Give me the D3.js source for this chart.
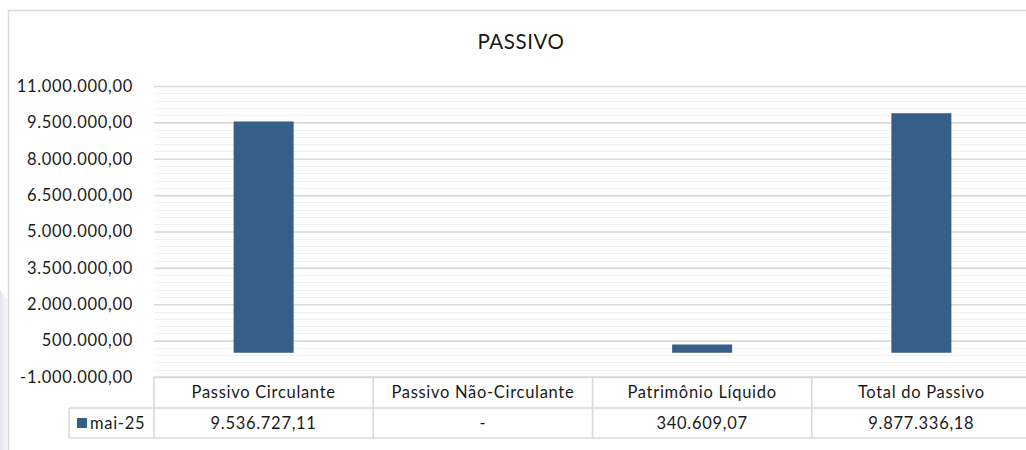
<!DOCTYPE html>
<html>
<head>
<meta charset="utf-8">
<script src="https://cdn.jsdelivr.net/npm/d3@7"></script>
<style>
  body { margin: 0; background: #fff; }
  svg { display: block; font-family: Lato, 'Open Sans', sans-serif; }
</style>
</head>
<body>
<div id="chart"></div>
<script>
const WIDTH = 1026;
const HEIGHT = 450;

// dados
const categories = ['Passivo Circulante', 'Passivo Não-Circulante', 'Patrimônio Líquido', 'Total do Passivo'];
const seriesName = 'mai-25';
const values = [9536727.11, 0, 340609.07, 9877336.18];
const yTicks = [-1000000, 500000, 2000000, 3500000, 5000000, 6500000, 8000000, 9500000, 11000000];
const yMinorStep = 300000;

const plot = { left: 154, right: 1031, top: 86, bottom: 377 };
const table = { legendLeft: 69, headerBottom: 408, bottom: 438 };

const FONT_SIZE = 16.5;
const SPACING = 0.7;

const ptBR = d3.formatLocale({ decimal: ',', thousands: '.', grouping: [3], currency: ['R$', ''], minus: '-' });
const fmt = ptBR.format(',.2f');
const fmtCell = v => (v === 0 ? '-' : fmt(v));

const svg = d3.select('#chart').append('svg')
  .attr('width', WIDTH)
  .attr('height', HEIGHT);

// marca d'água suave à esquerda
const grad = svg.append('defs').append('linearGradient')
  .attr('id', 'wm').attr('x1', 0).attr('x2', 1);
grad.append('stop').attr('offset', 0).attr('stop-color', '#e4e6ee');
grad.append('stop').attr('offset', 1).attr('stop-color', '#f7f7fa');
svg.append('path')
  .attr('d', 'M0,290 L8,300 L8,450 L0,450 Z')
  .attr('fill', 'url(#wm)');

// borda do gráfico
svg.append('rect')
  .attr('x', 8.5).attr('y', 10.5)
  .attr('width', WIDTH + 20).attr('height', HEIGHT + 20)
  .attr('fill', '#fff')
  .attr('stroke', '#d9d9d9')
  .attr('stroke-width', 1.5);

svg.append('text')
  .attr('x', 521)
  .attr('y', 49)
  .attr('text-anchor', 'middle')
  .attr('font-size', 20.5)
  .attr('letter-spacing', 0.6)
  .attr('fill', '#1a1a1a')
  .text('PASSIVO');

const x = d3.scaleBand()
  .domain(categories)
  .range([plot.left, plot.right])
  .paddingInner(0)
  .paddingOuter(0);

const y = d3.scaleLinear()
  .domain([yTicks[0], yTicks[yTicks.length - 1]])
  .range([plot.bottom, plot.top]);

// linhas de grade secundárias
const minorTicks = d3.range(yTicks[0], yTicks[yTicks.length - 1], yMinorStep)
  .filter(v => !yTicks.includes(v));
svg.append('g')
  .selectAll('line')
  .data(minorTicks)
  .join('line')
  .attr('x1', plot.left).attr('x2', plot.right)
  .attr('y1', d => Math.round(y(d)) + 0.5)
  .attr('y2', d => Math.round(y(d)) + 0.5)
  .attr('stroke', '#f0f0f0')
  .attr('stroke-width', 1.2);

// linhas de grade principais + rótulos
const yAxis = svg.append('g')
  .attr('transform', `translate(${plot.left},0)`)
  .call(d3.axisLeft(y).tickValues(yTicks).tickFormat(fmt)
    .tickSize(-(plot.right - plot.left)).tickPadding(21));
yAxis.select('.domain').remove();
yAxis.selectAll('.tick line')
  .attr('stroke', '#d9d9d9')
  .attr('stroke-width', 1.6);
yAxis.selectAll('.tick text')
  .attr('font-size', FONT_SIZE)
  .attr('letter-spacing', SPACING)
  .attr('font-family', 'Lato, sans-serif')
  .attr('fill', '#1a1a1a');

// barras
const barWidth = 60;
svg.append('g')
  .selectAll('rect')
  .data(values)
  .join('rect')
  .attr('x', (d, i) => x(categories[i]) + x.bandwidth() / 2 - barWidth / 2)
  .attr('width', barWidth)
  .attr('y', d => y(Math.max(d, 0)))
  .attr('height', d => Math.abs(y(d) - y(0)))
  .attr('fill', '#365f87');

// tabela de dados
const tbl = svg.append('g')
  .attr('stroke', '#d9d9d9')
  .attr('stroke-width', 1.6);
tbl.append('line')
  .attr('x1', plot.left).attr('x2', plot.right)
  .attr('y1', plot.bottom).attr('y2', plot.bottom);
[table.headerBottom, table.bottom].forEach(yy => {
  tbl.append('line')
    .attr('x1', table.legendLeft).attr('x2', plot.right)
    .attr('y1', yy).attr('y2', yy);
});
tbl.append('line')
  .attr('x1', table.legendLeft).attr('x2', table.legendLeft)
  .attr('y1', table.headerBottom).attr('y2', table.bottom);
tbl.selectAll('line.col')
  .data(categories)
  .join('line')
  .attr('class', 'col')
  .attr('x1', d => x(d)).attr('x2', d => x(d))
  .attr('y1', plot.bottom).attr('y2', table.bottom);

svg.append('g')
  .selectAll('text')
  .data(categories)
  .join('text')
  .attr('x', d => x(d) + x.bandwidth() / 2)
  .attr('y', (plot.bottom + table.headerBottom) / 2)
  .attr('dy', '0.35em')
  .attr('text-anchor', 'middle')
  .attr('font-size', FONT_SIZE)
  .attr('letter-spacing', SPACING)
  .attr('fill', '#1a1a1a')
  .text(d => d);

svg.append('g')
  .selectAll('text')
  .data(values)
  .join('text')
  .attr('x', (d, i) => x(categories[i]) + x.bandwidth() / 2)
  .attr('y', (table.headerBottom + table.bottom) / 2)
  .attr('dy', '0.35em')
  .attr('text-anchor', 'middle')
  .attr('font-size', FONT_SIZE)
  .attr('letter-spacing', SPACING)
  .attr('fill', '#1a1a1a')
  .text(d => fmtCell(d));

// legenda
svg.append('rect')
  .attr('x', 77).attr('y', 418)
  .attr('width', 10).attr('height', 10)
  .attr('fill', '#365f87');
svg.append('text')
  .attr('x', 90)
  .attr('y', (table.headerBottom + table.bottom) / 2)
  .attr('dy', '0.35em')
  .attr('font-size', FONT_SIZE)
  .attr('letter-spacing', SPACING)
  .attr('fill', '#1a1a1a')
  .text(seriesName);
</script>
</body>
</html>
